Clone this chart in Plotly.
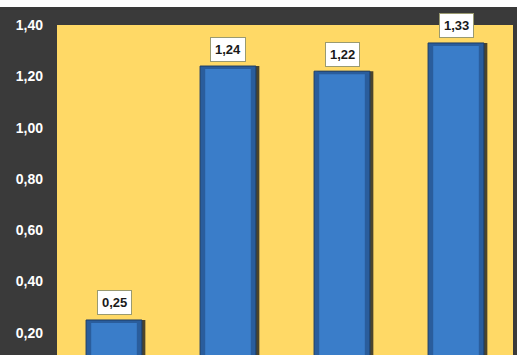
import plotly.graph_objects as go

categories = ["A", "B", "C", "D"]
values = [0.25, 1.24, 1.22, 1.33]
tick_vals = [0.20, 0.40, 0.60, 0.80, 1.00, 1.20, 1.40]

W = 0.49
fig = go.Figure()
# shadow
fig.add_trace(go.Bar(x=categories, y=values, width=W, offset=-W / 2 + 0.03,
                     marker=dict(color="rgba(30,30,30,0.8)", line=dict(width=0)),
                     hoverinfo="skip"))
# bar body (darker edges)
fig.add_trace(go.Bar(x=categories, y=values, width=W, offset=-W / 2,
                     marker=dict(color="#2a5d9c", line=dict(color="#1d3d66", width=1))))
# lighter centre
fig.add_trace(go.Bar(x=categories, y=[v - 0.012 for v in values], width=W - 0.09,
                     offset=-(W - 0.09) / 2,
                     marker=dict(color="#3a7dc9", line=dict(width=0)),
                     hoverinfo="skip"))
for c, v in zip(categories, values):
    fig.add_annotation(
        x=c, y=v, yshift=17, showarrow=False,
        text=f"<b>{v:.2f}</b>".replace(".", ","),
        font=dict(family="Liberation Sans", size=13, color="#1a1a1a"),
        bgcolor="white", bordercolor="#9a9a70", borderwidth=1, borderpad=4,
    )

fig.add_shape(type="rect", xref="paper", yref="paper", x0=-0.2, x1=1.2,
              y0=1 + 18 / 330, y1=1.2, fillcolor="white", line=dict(width=0), layer="below")

fig.update_layout(
    width=517, height=355,
    margin=dict(l=57, r=4, t=25, b=0),
    paper_bgcolor="#3a3a3a", plot_bgcolor="#ffd966",
    separators=",.",
    showlegend=False,
    barmode="overlay",
    xaxis=dict(showticklabels=False, showgrid=False, zeroline=False, range=[-0.5, 3.5]),
    yaxis=dict(range=[0.1135, 1.40], tickvals=tick_vals, tickformat=".2f",
               showgrid=False, zeroline=False,
               tickfont=dict(family="Liberation Sans", size=14, color="white", weight="bold"),
               ticklabelstandoff=13),
)
fig.write_html("out.html")
